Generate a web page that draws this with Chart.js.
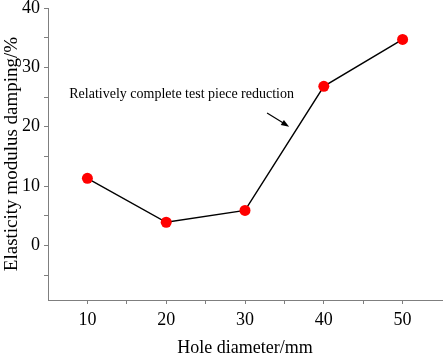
<!DOCTYPE html>
<html>
<head>
<meta charset="utf-8">
<script src="https://cdn.jsdelivr.net/npm/chart.js@4.4.0/dist/chart.umd.min.js"></script>
<style>
  html, body { margin: 0; padding: 0; background: #fff; }
  #wrap { width: 443px; height: 355px; }
</style>
</head>
<body>
<div id="wrap"><canvas id="c" width="443" height="355"></canvas></div>
<script>
// hole diameter (mm) vs elasticity modulus damping (%)
const holeDiameters = [10, 20, 30, 40, 50];
const damping = [11.3, 3.9, 5.9, 26.8, 34.7];
const xTickLabels = [10, 20, 30, 40, 50];
const yTickLabels = [0, 10, 20, 30, 40];

const noteText = "Relatively complete test piece reduction";

const FONT = "'Liberation Serif', 'Times New Roman', serif";
const AXIS_GREY = "#7f7f7f";

// text + arrow note, placed in data coordinates
const notePlugin = {
  id: "note",
  afterDatasetsDraw(chart) {
    const { ctx, scales: { x, y } } = chart;
    ctx.save();
    ctx.font = "14px " + FONT;
    ctx.fillStyle = "#000";
    ctx.textBaseline = "middle";
    ctx.fillText(noteText, x.getPixelForValue(7.7), y.getPixelForValue(25.4));

    const x0 = x.getPixelForValue(32.8), y0 = y.getPixelForValue(22.3);
    const x1 = x.getPixelForValue(35.6), y1 = y.getPixelForValue(20.0);
    const ang = Math.atan2(y1 - y0, x1 - x0);
    ctx.strokeStyle = "#000";
    ctx.lineWidth = 1.2;
    ctx.beginPath();
    ctx.moveTo(x0, y0);
    ctx.lineTo(x1 - 4 * Math.cos(ang), y1 - 4 * Math.sin(ang));
    ctx.stroke();
    ctx.beginPath();
    ctx.moveTo(x1, y1);
    ctx.lineTo(x1 - 8 * Math.cos(ang) + 3 * Math.sin(ang), y1 - 8 * Math.sin(ang) - 3 * Math.cos(ang));
    ctx.lineTo(x1 - 8 * Math.cos(ang) - 3 * Math.sin(ang), y1 - 8 * Math.sin(ang) + 3 * Math.cos(ang));
    ctx.closePath();
    ctx.fill();
    ctx.restore();
  }
};

const ctx = document.getElementById("c").getContext("2d");
new Chart(ctx, {
  type: "line",
  data: {
    datasets: [{
      data: holeDiameters.map((d, i) => ({ x: d, y: damping[i] })),
      borderColor: "#000",
      borderWidth: 1.4,
      pointRadius: 5.5,
      pointBackgroundColor: "#ff0000",
      pointBorderWidth: 0,
      pointHoverRadius: 5.5,
      tension: 0
    }]
  },
  options: {
    responsive: false,
    animation: false,
    layout: { autoPadding: false, padding: { top: 8, right: 1, left: 0, bottom: 0 } },
    plugins: {
      legend: { display: false },
      tooltip: { enabled: false }
    },
    scales: {
      x: {
        type: "linear",
        min: 5,
        max: 55,
        afterFit: (s) => { s.height = 55; s.paddingLeft = 0; s.paddingRight = 0; },
        border: { display: true, color: AXIS_GREY, width: 1 },
        grid: {
          drawOnChartArea: false,
          drawTicks: true,
          tickLength: 4,
          color: (c) => (c.tick && c.tick.value > 5 && c.tick.value < 55) ? AXIS_GREY : "rgba(0,0,0,0)"
        },
        ticks: {
          stepSize: 5,
          padding: 5,
          color: "#000",
          font: { family: FONT, size: 18 },
          callback: (v) => xTickLabels.includes(v) ? String(v) : ""
        },
        title: {
          display: true,
          text: "Hole diameter/mm",
          color: "#000",
          font: { family: FONT, size: 18, lineHeight: 1 },
          padding: { top: 0, bottom: -2 }
        }
      },
      y: {
        min: -9.2,
        max: 40,
        afterFit: (s) => { s.width = 48; s.paddingTop = 0; s.paddingBottom = 0; },
        border: { display: true, color: AXIS_GREY, width: 1 },
        grid: {
          drawOnChartArea: false,
          drawTicks: true,
          tickLength: 4,
          color: (c) => (c.tick && c.tick.value % 5 === 0) ? AXIS_GREY : "rgba(0,0,0,0)"
        },
        ticks: {
          stepSize: 5,
          padding: 4,
          color: "#000",
          font: { family: FONT, size: 18 },
          callback: (v) => yTickLabels.includes(v) ? String(v) : ""
        },
        title: {
          display: true,
          text: "Elasticity modulus damping/%",
          color: "#000",
          font: { family: FONT, size: 19, lineHeight: 1 },
          padding: { top: 3, bottom: 0 }
        }
      }
    }
  },
  plugins: [notePlugin]
});
</script>
</body>
</html>
